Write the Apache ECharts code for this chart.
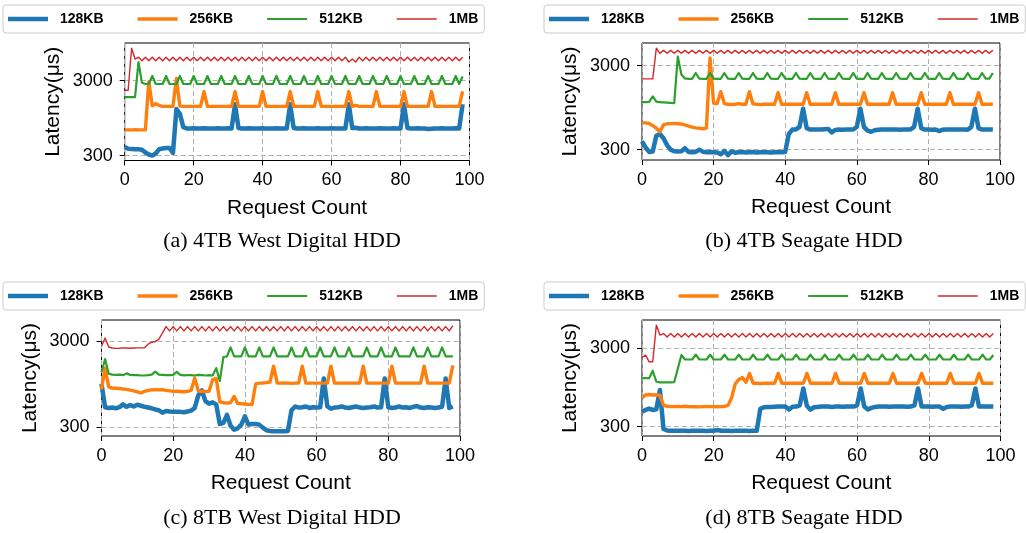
<!DOCTYPE html>
<html><head><meta charset="utf-8">
<script src="https://cdn.jsdelivr.net/npm/echarts@6/dist/echarts.min.js"></script>
<style>html,body{margin:0;padding:0;background:#fff}#c{width:1026px;height:533px}</style>
</head><body><div id="c"></div>
<script>
// ---------------- data ----------------
const sizeNames = ['128KB', '256KB', '512KB', '1MB'];
const xTickValues = [0, 20, 40, 60, 80, 100];
const yTickValues = [300, 3000];
const captions = ['(a) 4TB West Digital HDD', '(b) 4TB Seagate HDD', '(c) 8TB West Digital HDD', '(d) 8TB Seagate HDD'];

// (a) 4TB West Digital HDD
const wd4_128KB = [390,370,368,365,365,360,330,310,300,320,
 365,372,378,380,325,1250,1080,720,690,690,
 695,690,690,695,690,690,690,695,690,690,
 695,690,1450,700,690,690,695,690,690,690,
 695,690,690,690,695,690,690,690,1450,700,
 690,690,695,690,690,690,695,690,690,690,
 695,690,690,690,690,1450,700,705,690,690,
 695,690,690,690,695,690,690,690,695,690,
 690,1450,700,690,690,695,690,690,680,685,
 690,690,695,690,690,690,695,690,1450];
const wd4_256KB = [660,660,660,662,660,660,660,2900,1380,1470,
 1400,1360,1360,1360,1360,3200,1370,1360,1360,1360,
 1360,1360,1360,2140,1360,1360,1360,1360,1360,1360,
 1360,1360,2140,1360,1360,1360,1360,1360,1360,1360,
 2140,1360,1360,1360,1360,1360,1360,1360,2140,1360,
 1360,1360,1360,1360,1360,1360,2140,1360,1360,1360,
 1360,1360,1360,1360,1360,2140,1360,1400,1360,1360,
 1360,1360,1360,2140,1360,1360,1360,1360,1360,1360,
 1360,2140,1360,1360,1360,1360,1360,1360,1360,2140,
 1360,1360,1360,1360,1360,1360,1360,1360,2150];
const wd4_512KB = [1800,1800,1800,1800,5300,2800,2700,2700,3450,2700,
 2700,2700,3450,2700,2700,2700,3450,2700,2700,2700,
 3450,2700,2700,2700,3450,2700,2700,2700,3450,2700,
 2700,2700,3450,2700,2700,2700,3450,2700,2700,2700,
 3450,2700,2700,2700,3450,2700,2700,2700,3450,2700,
 2700,2700,3450,2700,2700,2700,3450,2700,2700,2700,
 3450,2700,2700,2700,3450,2700,2700,2700,3450,2700,
 2700,2700,3450,2700,2700,2700,3450,2700,2700,2700,
 3450,2700,2700,2700,3450,2700,2700,2700,3450,2700,
 2700,2700,3450,2700,2700,2700,3450,2700,3400];
const wd4_1MB = [2230,2230,8100,5800,6150,5500,6150,5500,6150,5500,
 6150,5500,6150,5500,6150,5500,6150,5500,6150,5500,
 6150,5500,6150,5500,6150,5500,6150,5500,6150,5500,
 6150,5500,6150,5500,6150,5500,6150,5500,6150,5500,
 6150,5500,6150,5500,6150,5500,6150,5500,6150,5500,
 6150,5500,6150,5500,6150,5500,6150,5500,6150,5500,
 6150,5500,6150,5500,6150,5300,5800,5300,6150,5500,
 6150,5500,6150,5500,6150,5500,6150,5500,6150,5500,
 6150,5500,6150,5500,6150,5500,6150,5500,6150,5500,
 6150,5500,6150,5500,6150,5500,6150,5500,6150];

// (b) 4TB Seagate HDD
const sg4_128KB = [377,320,282,285,440,460,410,340,300,287,
 286,288,312,282,280,282,300,284,280,282,
 280,278,264,290,258,286,276,280,282,278,
 280,282,278,280,279,280,278,280,281,279,
 282,460,520,522,560,920,540,520,522,520,
 520,525,530,480,515,520,518,520,522,520,
 560,920,560,505,490,510,518,520,520,522,
 520,520,518,520,522,520,560,920,540,520,
 520,518,520,500,518,520,520,522,520,520,
 520,518,560,920,540,520,520,520,520];
const sg4_256KB = [625,625,615,580,540,490,590,610,612,615,
 610,605,590,570,555,545,540,530,545,3700,
 1070,1060,1470,1060,1040,1035,1040,1060,1040,1040,
 1470,1050,1040,1030,1040,1040,1040,1040,1430,1040,
 1040,1040,1040,1040,1040,1040,1430,1040,1040,1040,
 1040,1040,1040,1040,1430,1040,1040,1040,1040,1040,
 1040,1040,1430,1040,1040,1040,1040,1040,1040,1040,
 1430,1040,1040,1040,1040,1040,1040,1040,1430,1040,
 1040,1040,1040,1040,1040,1040,1430,1040,1040,1040,
 1040,1040,1040,1040,1430,1040,1040,1040,1040];
const sg4_512KB = [1100,1100,1110,1290,1120,1100,1095,1090,1080,1070,
 3850,2350,2110,2090,2090,2450,2100,2090,2090,2450,
 2100,2090,2090,2450,2100,2090,2090,2450,2100,2090,
 2090,2450,2100,2090,2090,2450,2100,2090,2090,2450,
 2100,2090,2090,2450,2100,2090,2090,2450,2100,2090,
 2090,2450,2100,2090,2090,2450,2100,2090,2090,2450,
 2100,2090,2090,2450,2100,2090,2090,2450,2100,2090,
 2090,2450,2100,2090,2090,2450,2100,2090,2090,2450,
 2100,2090,2090,2450,2100,2090,2090,2450,2100,2090,
 2090,2450,2100,2090,2090,2450,2100,2100,2450];
const sg4_1MB = [2085,2085,2085,2085,4820,4200,4550,4200,4550,4200,
 4550,4200,4550,4200,4550,4200,4550,4200,4550,4200,
 4550,4200,4550,4200,4550,4200,4550,4200,4550,4200,
 4550,4200,4550,4200,4550,4200,4550,4200,4550,4200,
 4550,4200,4550,4200,4550,4200,4550,4200,4550,4200,
 4550,4200,4550,4200,4550,4200,4550,4200,4550,4200,
 4550,4200,4550,4200,4550,4200,4550,4200,4550,4200,
 4550,4200,4550,4200,4550,4200,4550,4200,4550,4200,
 4550,4200,4550,4200,4550,4200,4550,4200,4550,4200,
 4550,4200,4550,4200,4550,4200,4550,4200,4550];

// (c) 8TB West Digital HDD
const wd8_128KB = [950,510,500,505,495,510,550,515,540,520,
 545,530,515,505,495,480,470,440,460,455,
 452,450,450,445,455,465,500,700,800,600,
 560,580,550,325,335,415,310,280,290,320,
 400,320,325,325,320,295,275,270,268,268,
 268,268,270,470,520,505,510,520,500,510,
 505,510,1100,520,490,505,510,520,505,500,
 510,520,505,500,505,510,520,505,510,1100,
 510,500,505,520,505,510,500,515,525,505,
 500,510,505,500,505,515,1100,500,520];
const wd8_256KB = [820,1450,880,850,845,840,830,820,805,790,
 770,745,780,800,810,815,810,815,800,790,
 780,780,775,770,780,800,1110,790,775,775,
 780,1060,1100,590,575,570,575,680,565,560,
 555,550,548,950,970,975,985,1000,1530,975,
 970,975,970,965,970,975,1530,970,970,970,
 970,970,970,970,1530,970,970,970,970,970,
 970,970,970,1530,970,970,970,970,970,970,
 970,1530,970,970,970,970,970,970,970,970,
 1530,970,970,970,970,970,970,970,1560];
const wd8_512KB = [1300,1850,1250,1220,1210,1220,1200,1260,1210,1200,
 1200,1190,1190,1200,1220,1320,1220,1210,1200,1200,
 1210,1310,1210,1195,1200,1200,1190,1210,1200,1190,
 1200,1190,1450,1030,1950,1980,2520,1980,1980,1980,
 2520,1980,1980,1980,2520,1980,1980,1980,2520,1980,
 1980,1980,1980,2520,1980,1980,1980,2520,1980,1980,
 1980,2520,1980,1980,1980,2520,1980,1980,1980,2520,
 1980,1980,1980,1980,2520,1980,1980,1980,2520,1980,
 1980,1980,2520,1980,1980,1980,1980,2520,1980,1980,
 1980,2520,1980,1980,1980,2520,1980,1980,1980];
const wd8_1MB = [2600,3250,2550,2480,2460,2470,2490,2480,2470,2480,
 2490,2490,2500,2750,2900,2950,3150,3700,4400,3920,
 4400,3920,4400,3920,4400,3920,4400,3920,4400,3920,
 4400,3920,4400,3920,4400,3920,4400,3920,4400,3920,
 4400,3920,4400,3920,4400,3920,4400,3920,4400,3920,
 4400,3920,4400,3920,4400,3920,4400,3920,4400,3920,
 4400,3920,4400,3920,4400,3920,4400,3920,4400,3920,
 4400,3920,4400,3920,4400,3920,4400,3920,4400,3920,
 4400,3920,4400,3920,4400,3920,4400,3920,4400,3920,
 4400,3920,4400,3920,4400,3920,4400,3920,4500];

// (d) 8TB Seagate HDD
const sg8_128KB = [466,490,510,490,500,880,280,268,266,265,
 265,266,265,264,265,266,265,265,264,265,
 266,272,266,265,265,264,265,266,265,265,
 264,265,265,505,530,535,535,538,540,540,
 540,495,538,540,560,920,550,495,530,535,
 540,540,540,535,540,540,538,540,540,540,
 560,920,540,495,520,535,540,540,540,538,
 540,540,540,540,538,540,560,920,540,540,
 540,538,540,540,505,535,540,540,540,538,
 540,540,560,920,540,540,540,540,540];
const sg8_256KB = [700,760,770,760,765,750,565,545,540,540,
 542,540,545,540,538,540,535,540,542,540,
 540,538,540,542,560,700,1050,1200,1270,1100,
 1430,1070,1070,1065,1070,1070,1070,1070,1430,1070,
 1070,1070,1070,1070,1070,1070,1430,1070,1070,1070,
 1070,1070,1070,1070,1430,1070,1070,1070,1070,1070,
 1070,1070,1430,1070,1070,1070,1070,1070,1070,1070,
 1430,1070,1070,1070,1070,1070,1070,1070,1430,1070,
 1070,1070,1070,1070,1070,1070,1430,1070,1070,1070,
 1070,1070,1070,1070,1430,1070,1070,1070,1070];
const sg8_512KB = [1235,1250,1240,1545,1120,1100,1100,1100,1100,1110,
 1650,2450,2150,2150,2150,2480,2150,2150,2150,2480,
 2150,2150,2150,2480,2150,2150,2150,2480,2150,2150,
 2150,2480,2150,2150,2150,2480,2150,2150,2150,2480,
 2150,2150,2150,2480,2150,2150,2150,2480,2150,2150,
 2150,2480,2150,2150,2150,2480,2150,2150,2150,2480,
 2150,2150,2150,2480,2150,2150,2150,2480,2150,2150,
 2150,2480,2150,2150,2150,2480,2150,2150,2150,2480,
 2150,2150,2150,2480,2150,2150,2150,2480,2150,2150,
 2150,2480,2150,2150,2150,2480,2150,2150,2450];
const sg8_1MB = [2280,2440,2010,2010,5900,4400,4600,4150,4600,4150,
 4600,4150,4600,4150,4600,4150,4600,4150,4600,4150,
 4600,4150,4600,4150,4600,4150,4600,4150,4600,4150,
 4600,4150,4600,4150,4600,4150,4600,4150,4600,4150,
 4600,4150,4600,4150,4600,4150,4600,4150,4600,4150,
 4600,4150,4600,4150,4600,4150,4600,4150,4600,4150,
 4600,4150,4600,4150,4600,4150,4600,4150,4600,4150,
 4600,4150,4600,4150,4600,4150,4600,4150,4600,4150,
 4600,4150,4600,4150,4600,4150,4600,4150,4600,4150,
 4600,4150,4600,4150,4600,4150,4600,4150,4600];

const panelSeries = [
  [wd4_128KB, wd4_256KB, wd4_512KB, wd4_1MB],
  [sg4_128KB, sg4_256KB, sg4_512KB, sg4_1MB],
  [wd8_128KB, wd8_256KB, wd8_512KB, wd8_1MB],
  [sg8_128KB, sg8_256KB, sg8_512KB, sg8_1MB]
];
const yRanges = [[258, 9500], [226, 5570], [236, 5250], [228, 6850]];

// ---------------- styling / layout ----------------
const colors = ['#1f77b4', '#ff7f0e', '#2ca02c', '#d62728'];
const widths = [4.5, 3.4, 2.2, 1.4];
const SANS = '"Liberation Sans", Arial, sans-serif';
const SERIF = '"Liberation Serif", "Times New Roman", serif';
const grids = [
  {left: 124.7, top: 43, width: 344.8, height: 117.5},
  {left: 642, top: 43, width: 358, height: 117},
  {left: 101.5, top: 320, width: 358.5, height: 116},
  {left: 642, top: 320, width: 358.5, height: 116}
];
const legendPos = [{left: 3, top: 5}, {left: 544, top: 5}, {left: 3, top: 282}, {left: 544, top: 282}];
const captionPos = [[282, 241], [804, 241], [282, 518], [804, 518]];

function iconPath(t) {
  const a = 7 - t / 2, b = 7 + t / 2;
  return 'path://M0,0L0,0M0,14L0,14M0,' + a + 'H40V' + b + 'H0Z';
}

const option = {
  animation: false,
  backgroundColor: '#fff',
  grid: grids.map(g => Object.assign({show: true, borderColor: '#000', borderWidth: 1, backgroundColor: 'transparent'}, g)),
  legend: legendPos.map(p => ({
    left: p.left, top: p.top, orient: 'horizontal',
    padding: [7, 6, 7, 5], itemGap: 34, itemWidth: 40, itemHeight: 14,
    borderColor: '#cccccc', borderWidth: 1, borderRadius: 3, backgroundColor: 'rgba(255,255,255,0.8)',
    selectedMode: false,
    textStyle: {fontSize: 14, fontWeight: 'bold', color: '#000', fontFamily: SANS, padding: [0, 0, 0, 7]},
    data: sizeNames.map((n, k) => ({
      name: n,
      icon: iconPath(widths[k]),
      itemStyle: {color: colors[k], borderWidth: 0}
    }))
  })),
  xAxis: grids.map((g, i) => ({
    type: 'value', gridIndex: i, min: 0, max: 100, interval: 20,
    axisLine: {show: false, onZero: false},
    axisTick: {show: true, length: 5, lineStyle: {color: '#000', width: 1}},
    axisLabel: {fontSize: 18, color: '#000', margin: 11, fontFamily: SANS, showMinLabel: true, showMaxLabel: true,
      formatter: v => String(v)},
    splitLine: {show: true, lineStyle: {color: '#b0b0b0', type: [5, 3], width: 1}},
    name: 'Request Count', nameLocation: 'middle', nameGap: 37,
    nameTextStyle: {fontSize: 21, color: '#000', fontFamily: SANS}
  })),
  yAxis: grids.map((g, i) => ({
    type: 'log', logBase: 10, gridIndex: i, min: yRanges[i][0], max: yRanges[i][1],
    axisLine: {show: false, onZero: false},
    axisTick: {show: true, length: 5, customValues: yTickValues, lineStyle: {color: '#000', width: 1}},
    axisLabel: {fontSize: 18, color: '#000', margin: 12, fontFamily: SANS, customValues: yTickValues,
      formatter: v => String(Math.round(v))},
    splitLine: {show: true, lineStyle: {color: '#b0b0b0', type: [5, 3], width: 1}},
    minorTick: {show: false}, minorSplitLine: {show: false},
    name: 'Latency(μs)', nameLocation: 'middle', nameGap: 61,
    nameTextStyle: {fontSize: 21, color: '#000', fontFamily: SANS}
  })),
  series: [],
  graphic: captions.map((c, i) => ({
    type: 'text', x: captionPos[i][0], y: captionPos[i][1], silent: true,
    style: {text: c, font: '22px ' + SERIF, fill: '#000', textAlign: 'center', textVerticalAlign: 'middle', align: 'center', verticalAlign: 'middle'}
  }))
};

panelSeries.forEach((arrs, i) => {
  arrs.forEach((arr, k) => {
    option.series.push({
      type: 'line', name: sizeNames[k], xAxisIndex: i, yAxisIndex: i,
      data: arr.map((v, idx) => [idx, v]),
      symbol: 'none', showSymbol: false, smooth: false, silent: true,
      lineStyle: {width: widths[k], color: colors[k], join: 'round', cap: 'butt'},
      itemStyle: {color: colors[k]},
      emphasis: {disabled: true}
    });
  });
});

const chart = echarts.init(document.getElementById('c'), null, {renderer: 'canvas'});
chart.setOption(option);
</script>
</body></html>
